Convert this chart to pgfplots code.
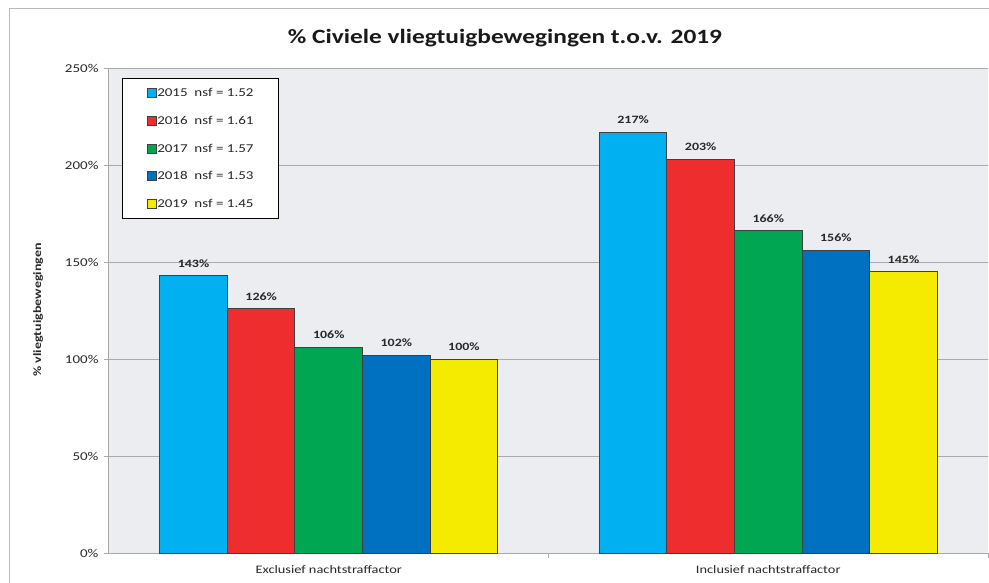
\documentclass[border=0pt]{standalone}
\usepackage{pgfplots}
\pgfplotsset{compat=1.18}
\usepackage{fontspec}
\setmainfont{Carlito}[FakeStretch=1.25]
\definecolor{c15}{RGB}{0,176,240}
\definecolor{c16}{RGB}{237,45,46}
\definecolor{c17}{RGB}{0,166,81}
\definecolor{c18}{RGB}{0,112,192}
\definecolor{c19}{RGB}{245,235,0}
\definecolor{plotbg}{RGB}{236,237,240}
\definecolor{gridc}{RGB}{170,170,170}
\definecolor{txt}{RGB}{40,40,40}
\begin{document}
\begin{tikzpicture}
\useasboundingbox (0pt,0pt) rectangle (989pt,582pt);
\draw[gray!55, line width=1pt] (9pt,-5pt) -- (9pt,573pt) -- (995pt,573pt);
\node[font=\bfseries\fontsize{20.3}{23}\selectfont, text=black!90] at (505pt,544pt) {\% Civiele vliegtuigbewegingen t.o.v. 2019};
\begin{axis}[
  at={(109pt,29pt)}, anchor=south west,
  scale only axis, width=879pt, height=485pt,
  ymin=0, ymax=250, xmin=-0.5, xmax=1.5,
  enlargelimits=false,
  ybar=0pt, bar width=67.6pt,
  axis background/.style={fill=plotbg},
  axis x line*=bottom, axis y line*=left,
  axis line style={gridc, line width=1pt, -},
  ymajorgrids, major grid style={gridc, line width=1pt},
  ytick={0,50,100,150,200,250},
  yticklabels={0\%,50\%,100\%,150\%,200\%,250\%},
  tick align=outside, major tick length=5pt,
  ytick style={draw=gridc, line width=1pt},
  yticklabel style={font=\fontsize{12}{14}\selectfont, text=txt, xshift=-2pt},
  xtick={0,1},
  xticklabels={Exclusief nachtstraffactor, Inclusief nachtstraffactor},
  xticklabel style={font=\fontsize{11.5}{13}\selectfont, text=txt, yshift=-4pt},
  xtick style={draw=none},
  extra x ticks={0.5,1.5}, extra x tick labels={},
  extra x tick style={xtick style={draw=gridc, line width=1pt}, grid=none},
  ylabel={\% vliegtuigbewegingen},
  ylabel style={at={(axis description cs:-0.0807,0.501)}, anchor=center, font=\bfseries\fontsize{11.2}{13}\selectfont, text=txt},
  every axis plot/.append style={draw=black!75, line width=1pt},
  nodes near coords={\pgfmathprintnumber{\pgfplotspointmeta}\%},
  /pgf/number format/assume math mode=true,
  every node near coord/.append style={font=\bfseries\fontsize{11.2}{13}\selectfont, text=txt, anchor=base, inner sep=0pt, yshift=8.5pt},
  legend style={at={(0.015,0.979)}, anchor=north west, draw=black, line width=0.8pt, fill=white,
    font=\fontsize{12}{14}\selectfont, text=txt, inner xsep=24pt, inner ysep=8.5pt,
    row sep=15.75pt, legend cell align=left,
    nodes={inner sep=1pt, text height=8.5pt, text depth=1.5pt},
    /tikz/every even column/.append style={column sep=2pt}},
  legend image code/.code={\draw[#1, line width=0.7pt] (0pt,-4.5pt) rectangle (9pt,4.5pt);},
]
\addplot[fill=c15] coordinates {(0,143) (1,217)};
\addplot[fill=c16] coordinates {(0,126) (1,203)};
\addplot[fill=c17] coordinates {(0,106) (1,166)};
\addplot[fill=c18] coordinates {(0,102) (1,156)};
\addplot[fill=c19] coordinates {(0,100) (1,145)};
\legend{2015~~nsf = 1.52, 2016~~nsf = 1.61, 2017~~nsf = 1.57, 2018~~nsf = 1.53, 2019~~nsf = 1.45}
\end{axis}
\end{tikzpicture}
\end{document}
